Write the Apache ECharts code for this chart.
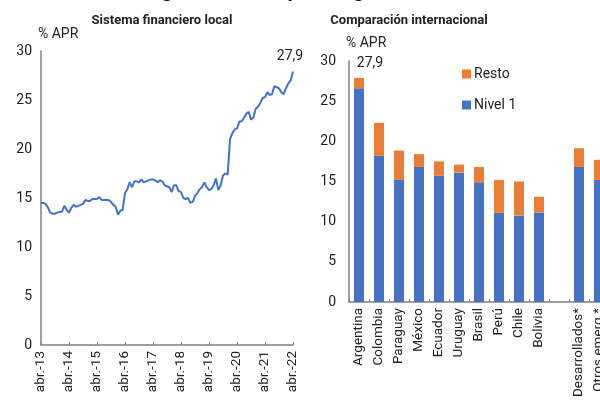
<!DOCTYPE html>
<html><head><meta charset="utf-8">
<script src="https://cdn.jsdelivr.net/npm/echarts@6/dist/echarts.min.js"></script>
<style>html,body{margin:0;padding:0;background:#fff}#c{width:600px;height:403px}</style>
</head><body><div id="c"></div>
<script>
const lineValues = [
14.5,14.5,14.4,14.0,13.5,13.4,13.4,13.5,13.6,13.6,14.2,13.8,
13.5,14.0,14.3,14.1,14.2,14.3,14.4,14.8,14.7,14.7,14.9,14.9,
14.9,15.1,14.8,14.8,14.8,14.8,14.6,14.3,14.1,13.3,13.7,13.8,
15.5,15.9,16.6,16.1,16.7,16.7,16.6,16.9,16.6,16.7,16.8,16.9,
16.9,16.8,16.6,16.8,16.7,16.3,16.2,16.1,15.6,16.3,16.3,15.7,
15.6,15.0,14.9,15.0,14.5,14.6,15.2,15.5,15.9,16.1,16.6,16.1,
15.8,15.9,16.3,17.0,15.8,16.3,17.3,17.5,17.4,21.0,21.6,22.0,
22.1,22.8,22.8,23.2,23.6,23.8,23.0,23.2,24.1,24.3,24.7,25.2,
25.3,25.8,25.5,25.6,26.4,26.3,26.2,25.8,25.6,26.2,26.7,27.0,
27.9];
const months = ['abr.','may.','jun.','jul.','ago.','sep.','oct.','nov.','dic.','ene.','feb.','mar.'];
const lineCategories = lineValues.map((v,i)=>{
  const yr = 13 + Math.floor((i+3)/12);
  return months[i%12] + '-' + String(yr);
});
const countries = ['Argentina','Colombia','Paraguay','México','Ecuador','Uruguay','Brasil','Perú','Chile','Bolivia','','Desarrollados*','Otros emerg.*'];
const nivel1 = [26.6,18.2,15.2,16.8,15.7,16.1,14.9,11.1,10.75,11.15,null,16.8,15.2];
const resto  = [1.3,4.1,3.65,1.6,1.8,1.0,1.9,4.1,4.25,1.95,null,2.35,2.5];
const lastLabel = '27,9';

const blue = '#4472C4', orange = '#ED7D31', axisCol = '#808080', txt = '#222';
const font = 'Roboto';

const chart = echarts.init(document.getElementById('c'), null, {renderer:'canvas'});
const restoData = resto.map((v,i)=> i===0 ? {value:v, label:{show:true, formatter:lastLabel, position:'top', distance:7, offset:[11,0], color:txt, fontSize:14, fontFamily:font}} : v);

chart.setOption({
  animation:false,
  textStyle:{fontFamily:font},
  title:[
    {text:'Gráfico 3.4 | Integración de capital regulatorio', left:0, top:-24, textStyle:{fontSize:21, fontWeight:'bold', color:'#111', fontFamily:font}},
    {text:'Sistema financiero local', left:157, top:9, textAlign:'center', textStyle:{fontSize:13, fontWeight:'bold', color:txt, fontFamily:font}},
    {text:'Comparación internacional', left:404, top:9, textAlign:'center', textStyle:{fontSize:13, fontWeight:'bold', color:txt, fontFamily:font}}
  ],
  legend:{orient:'vertical', left:457, top:62, itemWidth:9, itemHeight:9, itemGap:17, icon:'rect',
    data:['Resto','Nivel 1'], textStyle:{fontSize:14, color:txt, fontFamily:font, padding:[0,0,0,-2]}},
  grid:[
    {left:41, top:51, width:252, height:294, outerBoundsMode:'none', containLabel:false},
    {left:349, top:61, width:260, height:241, outerBoundsMode:'none', containLabel:false}
  ],
  xAxis:[
    {gridIndex:0, type:'category', data:lineCategories, boundaryGap:false,
     axisLine:{lineStyle:{color:axisCol, width:1.5}},
     axisTick:{show:true, inside:true, length:3, interval:11, lineStyle:{color:axisCol}},
     axisLabel:{interval:11, rotate:90, fontSize:13.5, color:txt, margin:6, fontFamily:font}},
    {gridIndex:1, type:'category', data:countries,
     axisLine:{lineStyle:{color:axisCol, width:1.5}},
     axisTick:{show:true, inside:true, length:3, lineStyle:{color:axisCol}},
     axisLabel:{interval:0, rotate:90, fontSize:13.5, color:txt, margin:6, fontFamily:font}}
  ],
  yAxis:[
    {gridIndex:0, type:'value', min:0, max:30, interval:5, name:'% APR', nameGap:10,
     nameTextStyle:{align:'left', fontSize:14, color:txt, padding:[0,0,0,-3], fontFamily:font},
     axisLine:{show:true, lineStyle:{color:axisCol, width:1.5}}, axisTick:{show:false}, splitLine:{show:false},
     axisLabel:{fontSize:14, color:txt, margin:9, fontFamily:font}},
    {gridIndex:1, type:'value', min:0, max:30, interval:5, name:'% APR', nameGap:11,
     nameTextStyle:{align:'left', fontSize:14, color:txt, padding:[0,0,0,-3], fontFamily:font},
     axisLine:{show:true, lineStyle:{color:axisCol, width:1.5}}, axisTick:{show:false}, splitLine:{show:false},
     axisLabel:{fontSize:14, color:txt, margin:13, fontFamily:font}}
  ],
  series:[
    {type:'line', xAxisIndex:0, yAxisIndex:0, data:lineValues, showSymbol:false, symbol:'none',
     lineStyle:{color:blue, width:2}, itemStyle:{color:blue},
     markPoint:{symbol:'circle', symbolSize:0, silent:true,
       label:{show:true, formatter:lastLabel, position:'top', distance:8, offset:[-3,0], color:txt, fontSize:14, fontFamily:font},
       data:[{coord:[lineValues.length-1, lineValues[lineValues.length-1]]}]}},
    {name:'Nivel 1', type:'bar', xAxisIndex:1, yAxisIndex:1, stack:'a', data:nivel1, barWidth:10,
     itemStyle:{color:blue}},
    {name:'Resto', type:'bar', xAxisIndex:1, yAxisIndex:1, stack:'a', data:restoData, barWidth:10,
     itemStyle:{color:orange}}
  ]
});
</script>
</body></html>
